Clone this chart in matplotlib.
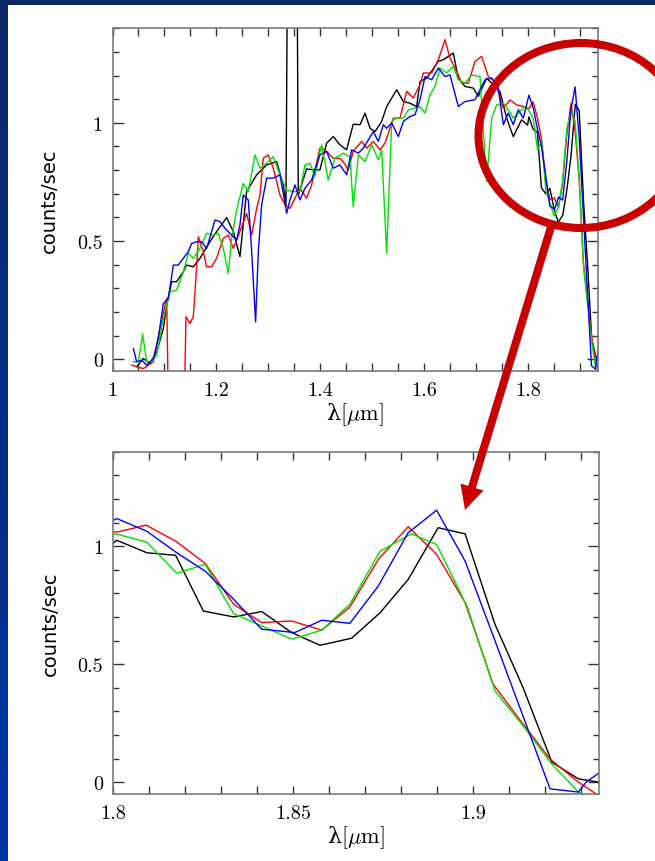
"""Spectra of four exposures, full range and zoom on the 1.8-1.93 um region."""

import matplotlib

matplotlib.use("Agg")
import matplotlib.pyplot as plt
import numpy as np
from matplotlib.patches import Ellipse, FancyArrow, Rectangle
from matplotlib.ticker import FuncFormatter, MultipleLocator

# wavelength [um] and flux [counts/sec]
BLACK_WAVE = [1.0465, 1.0593, 1.0721, 1.0850, 1.0978, 1.1042, 1.1138, 1.1234, 1.1362, 1.1426,
              1.1555, 1.1683, 1.1875, 1.2003, 1.2196, 1.2324, 1.2452, 1.2580, 1.2773, 1.2965,
              1.3157, 1.3285, 1.3337, 1.3369, 1.3548, 1.3574, 1.3734, 1.3862, 1.3990, 1.4119,
              1.4247, 1.4375, 1.4503, 1.4631, 1.4762, 1.4858, 1.4954, 1.5050, 1.5178, 1.5274,
              1.5467, 1.5595, 1.5723, 1.5851, 1.5915, 1.6044, 1.6268, 1.6364, 1.6556, 1.6653,
              1.6781, 1.6941, 1.7037, 1.7197, 1.7326, 1.7454, 1.7582, 1.7710, 1.7870, 1.7985,
              1.8010, 1.8094, 1.8174, 1.8251, 1.8335, 1.8413, 1.8496, 1.8575, 1.8663, 1.8742,
              1.8820, 1.8903, 1.8978, 1.9061, 1.9139, 1.9219, 1.9293, 1.9350]
BLACK_FLUX = [-0.032, 0.003, -0.018, 0.031, 0.130, 0.229, 0.328, 0.328, 0.370, 0.398,
              0.391, 0.427, 0.497, 0.540, 0.599, 0.540, 0.434, 0.709, 0.780, 0.822,
              0.836, 0.737, 0.653, 1.8, 1.8, 0.695, 0.805, 0.801, 0.801, 0.914,
              0.942, 0.907, 0.886, 0.994, 0.992, 1.041, 0.977, 0.963, 1.006, 1.069,
              1.140, 1.090, 1.083, 1.069, 1.175, 1.189, 1.260, 1.267, 1.295, 1.189,
              1.154, 1.147, 1.112, 1.189, 1.161, 1.133, 1.020, 0.942, 1.013, 0.990,
              1.025, 0.972, 0.961, 0.725, 0.700, 0.723, 0.634, 0.580, 0.610, 0.718,
              0.859, 1.078, 1.052, 0.669, 0.401, 0.085, 0.014, 0.000]

RED_WAVE = [1.0369, 1.0593, 1.0786, 1.0914, 1.1042, 1.1074, 1.1382, 1.1414, 1.1491, 1.1555,
            1.1619, 1.1651, 1.1747, 1.1811, 1.1907, 1.2003, 1.2131, 1.2228, 1.2324, 1.2452,
            1.2580, 1.2677, 1.2773, 1.2837, 1.2901, 1.2997, 1.3093, 1.3221, 1.3318, 1.3414,
            1.3510, 1.3606, 1.3734, 1.3830, 1.3990, 1.4119, 1.4247, 1.4375, 1.4455, 1.4535,
            1.4631, 1.4794, 1.4890, 1.5018, 1.5146, 1.5242, 1.5403, 1.5531, 1.5659, 1.5787,
            1.5915, 1.5980, 1.6140, 1.6268, 1.6396, 1.6492, 1.6621, 1.6717, 1.6845, 1.6973,
            1.7101, 1.7229, 1.7358, 1.7518, 1.7646, 1.7774, 1.7903, 1.8013, 1.8092, 1.8174,
            1.8256, 1.8335, 1.8413, 1.8496, 1.8580, 1.8658, 1.8737, 1.8820, 1.8899, 1.8978,
            1.9056, 1.9135, 1.9214, 1.9293, 1.9372]
RED_FLUX = [-0.025, -0.040, -0.011, 0.130, 0.257, -0.18, -0.18, 0.180, 0.151, 0.180,
            0.391, 0.518, 0.455, 0.391, 0.391, 0.427, 0.511, 0.525, 0.469, 0.540,
            0.617, 0.525, 0.638, 0.695, 0.850, 0.864, 0.808, 0.695, 0.653, 0.638,
            0.681, 0.723, 0.681, 0.737, 0.893, 0.879, 0.850, 0.850, 0.830, 0.800,
            0.880, 0.921, 0.893, 0.921, 0.886, 0.914, 1.020, 1.020, 1.133, 1.105,
            1.161, 1.211, 1.211, 1.267, 1.352, 1.274, 1.218, 1.168, 1.168, 1.260,
            1.281, 1.196, 1.175, 1.062, 1.097, 1.076, 1.069, 1.060, 1.089, 1.021,
            0.927, 0.754, 0.676, 0.683, 0.644, 0.742, 0.944, 1.082, 0.965, 0.761,
            0.415, 0.254, 0.098, 0.000, -0.080]

GREEN_WAVE = [1.0401, 1.0497, 1.0580, 1.0657, 1.0753, 1.0850, 1.0978, 1.1106, 1.1234, 1.1362,
              1.1458, 1.1555, 1.1683, 1.1811, 1.1939, 1.2035, 1.2131, 1.2228, 1.2292, 1.2388,
              1.2516, 1.2612, 1.2741, 1.2837, 1.2965, 1.3093, 1.3221, 1.3350, 1.3478, 1.3606,
              1.3702, 1.3798, 1.3894, 1.4022, 1.4151, 1.4279, 1.4439, 1.4567, 1.4631, 1.4730,
              1.4858, 1.4986, 1.5114, 1.5178, 1.5274, 1.5371, 1.5467, 1.5595, 1.5691, 1.5819,
              1.5915, 1.6012, 1.6108, 1.6204, 1.6300, 1.6428, 1.6556, 1.6653, 1.6781, 1.6909,
              1.7069, 1.7197, 1.7294, 1.7390, 1.7518, 1.7614, 1.7710, 1.7839, 1.7935, 1.8013,
              1.8094, 1.8177, 1.8256, 1.8335, 1.8413, 1.8496, 1.8580, 1.8658, 1.8742, 1.8829,
              1.8899, 1.8983, 1.9061, 1.9139, 1.9219, 1.9293, 1.9370]
GREEN_FLUX = [-0.011, -0.011, 0.105, -0.011, -0.011, 0.017, 0.172, 0.285, 0.292, 0.370,
              0.448, 0.427, 0.469, 0.533, 0.525, 0.533, 0.469, 0.363, 0.511, 0.631,
              0.744, 0.709, 0.864, 0.808, 0.829, 0.857, 0.780, 0.716, 0.709, 0.709,
              0.822, 0.829, 0.773, 0.907, 0.758, 0.850, 0.872, 0.857, 0.645, 0.864,
              0.836, 0.907, 0.843, 0.886, 0.448, 1.006, 1.020, 1.020, 1.055, 1.062,
              1.069, 1.041, 1.119, 1.154, 1.232, 1.211, 1.239, 1.182, 1.168, 1.203,
              1.196, 0.751, 1.020, 1.076, 1.083, 1.055, 1.020, 1.048, 1.069, 1.050,
              1.017, 0.885, 0.923, 0.714, 0.662, 0.606, 0.644, 0.754, 0.979, 1.052,
              1.007, 0.747, 0.387, 0.239, 0.077, -0.042, -0.100]

BLUE_WAVE = [1.0401, 1.0465, 1.0561, 1.0657, 1.0786, 1.0881, 1.0978, 1.1074, 1.1170, 1.1266,
             1.1362, 1.1458, 1.1522, 1.1619, 1.1715, 1.1811, 1.1907, 1.1971, 1.2067, 1.2163,
             1.2292, 1.2388, 1.2452, 1.2516, 1.2612, 1.2677, 1.2753, 1.2805, 1.2869, 1.2965,
             1.3093, 1.3221, 1.3318, 1.3350, 1.3414, 1.3510, 1.3606, 1.3702, 1.3830, 1.3990,
             1.4119, 1.4247, 1.4375, 1.4505, 1.4601, 1.4730, 1.4826, 1.5018, 1.5114, 1.5210,
             1.5274, 1.5371, 1.5499, 1.5595, 1.5723, 1.5819, 1.5915, 1.6012, 1.6140, 1.6268,
             1.6396, 1.6492, 1.6653, 1.6781, 1.6973, 1.7069, 1.7166, 1.7294, 1.7422, 1.7518,
             1.7614, 1.7710, 1.7807, 1.7903, 1.8010, 1.8094, 1.8177, 1.8256, 1.8335, 1.8413,
             1.8505, 1.8580, 1.8658, 1.8737, 1.8820, 1.8899, 1.8978, 1.9056, 1.9135, 1.9214,
             1.9293, 1.9314, 1.9360]
BLUE_FLUX = [0.045, -0.011, -0.004, -0.025, 0.003, 0.088, 0.236, 0.257, 0.398, 0.398,
             0.427, 0.455, 0.490, 0.497, 0.497, 0.469, 0.540, 0.589, 0.582, 0.554,
             0.525, 0.504, 0.568, 0.695, 0.674, 0.455, 0.158, 0.455, 0.653, 0.766,
             0.766, 0.780, 0.660, 0.617, 0.674, 0.737, 0.674, 0.723, 0.758, 0.864,
             0.879, 0.808, 0.822, 0.780, 0.886, 0.872, 0.893, 0.963, 0.921, 0.992,
             0.977, 0.999, 0.942, 1.006, 1.027, 1.034, 1.098, 1.196, 1.182, 1.232,
             1.196, 1.203, 1.069, 1.090, 1.098, 1.140, 1.182, 1.189, 1.147, 0.992,
             1.041, 0.992, 1.055, 1.020, 1.117, 1.063, 0.972, 0.894, 0.775, 0.648,
             0.634, 0.686, 0.673, 0.831, 1.057, 1.152, 0.937, 0.620, 0.296, -0.028,
             -0.042, 0.000, 0.050]

SERIES = [
    (BLACK_WAVE, BLACK_FLUX, "black"),
    (RED_WAVE, RED_FLUX, "#ff0000"),
    (GREEN_WAVE, GREEN_FLUX, "#00e000"),
    (BLUE_WAVE, BLUE_FLUX, "#0000ff"),
]

W, H = 655, 862
RING = "#c80000"

plt.rcParams["font.family"] = ["cmr10", "DejaVu Serif"]
plt.rcParams["mathtext.fontset"] = "cm"
plt.rcParams["axes.formatter.use_mathtext"] = True


def _px_axes(fig, left, top, right, bottom):
    return fig.add_axes([left / W, 1 - bottom / H, (right - left) / W, (bottom - top) / H])


def _style(ax, xlim, xmajor, xminor):
    ax.set_xlim(*xlim)
    ax.set_ylim(-0.05, 1.40)
    ax.xaxis.set_major_locator(MultipleLocator(xmajor))
    ax.xaxis.set_minor_locator(MultipleLocator(xminor))
    ax.yaxis.set_major_locator(MultipleLocator(0.5))
    ax.yaxis.set_minor_locator(MultipleLocator(0.1))
    fmt = FuncFormatter(lambda v, _: f"{v:g}")
    ax.xaxis.set_major_formatter(fmt)
    ax.yaxis.set_major_formatter(fmt)
    for s in ax.spines.values():
        s.set_color("#7a7a7a")
        s.set_linewidth(1.2)
    ax.tick_params(which="both", direction="in", top=True, right=True,
                   color="#333333", width=1.0, labelsize=14.5)
    ax.tick_params(axis="x", which="both", length=6, pad=7)
    ax.tick_params(axis="y", which="major", length=8, pad=7)
    ax.tick_params(axis="y", which="minor", length=4.5)
    ax.set_xlabel("λ$[\\mu\\mathrm{m}]$", fontsize=16, family="DejaVu Serif", labelpad=1)
    ax.set_ylabel("counts/sec", fontsize=14, family="DejaVu Sans", labelpad=13)


def main():
    fig = plt.figure(figsize=(W / 100, H / 100), dpi=100)

    bg = fig.add_axes([0, 0, 1, 1], zorder=-10)
    grad = np.linspace(0, 1, 256).reshape(-1, 1)
    cmap = matplotlib.colors.LinearSegmentedColormap.from_list("frame", ["#0b2766", "#0037a6"])
    bg.imshow(grad, cmap=cmap, aspect="auto", extent=[0, W, H, 0])
    bg.add_patch(Rectangle((8, 6), W - 8, H - 6, facecolor="white", edgecolor="none"))
    bg.set_xlim(0, W)
    bg.set_ylim(H, 0)
    bg.axis("off")

    top = _px_axes(fig, 112.5, 29.3, 597.5, 372)
    zoom = _px_axes(fig, 113, 452.7, 599, 795)

    for ax in (top, zoom):
        for wave, flux, color in SERIES:
            ax.plot(wave, flux, color=color, lw=1.0)

    _style(top, (1.0, 1.933), 0.2, 0.05)
    _style(zoom, (1.8, 1.935), 0.05, 0.01)

    ov = fig.add_axes([0, 0, 1, 1], zorder=10)
    ov.set_xlim(0, W)
    ov.set_ylim(H, 0)
    ov.axis("off")
    ov.patch.set_alpha(0)
    ov.add_patch(Ellipse((581, 136.5), 205, 185, fill=False, lw=5.8, ec=RING))
    ov.add_patch(FancyArrow(551, 228, 465 - 551, 511 - 228, width=8, head_width=24,
                            head_length=24, length_includes_head=True,
                            color=RING, lw=0))

    fig.savefig("out.png", dpi=100)
    plt.close(fig)
    return 0


if __name__ == "__main__":
    raise SystemExit(main())
